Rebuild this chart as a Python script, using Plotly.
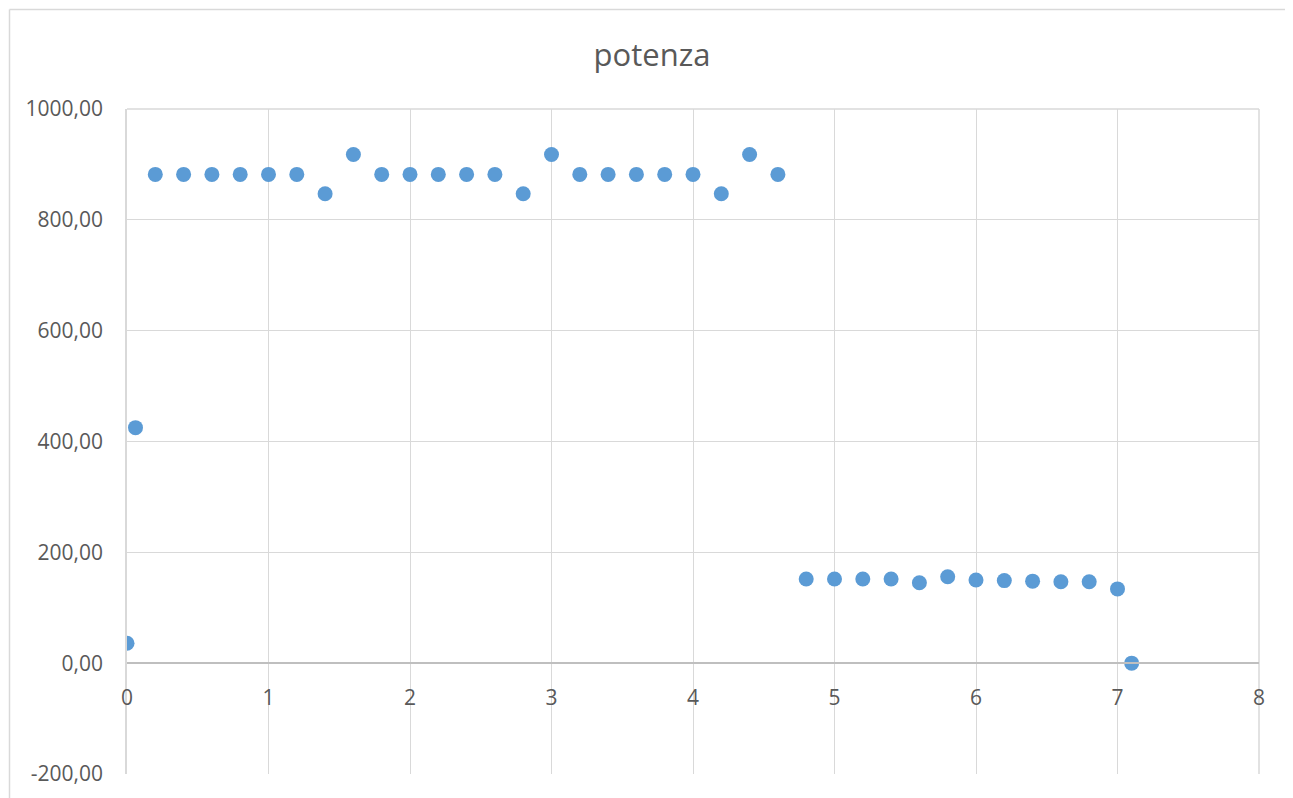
import plotly.graph_objects as go

# Data
tempo = [0, 0.06, 0.2, 0.4, 0.6, 0.8, 1.0, 1.2, 1.4, 1.6, 1.8, 2.0, 2.2, 2.4, 2.6, 2.8,
         3.0, 3.2, 3.4, 3.6, 3.8, 4.0, 4.2, 4.4, 4.6, 4.8, 5.0, 5.2, 5.4, 5.6, 5.8,
         6.0, 6.2, 6.4, 6.6, 6.8, 7.0, 7.1]
potenza = [36, 425, 882, 882, 882, 882, 882, 882, 847, 918, 882, 882, 882, 882, 882, 847,
           918, 882, 882, 882, 882, 882, 847, 918, 882, 152, 152, 152, 152, 145, 156,
           150, 149, 148, 147, 147, 134, 0]

x_ticks = [0, 1, 2, 3, 4, 5, 6, 7, 8]
y_ticks = [-200, 0, 200, 400, 600, 800, 1000]
y_ticktext = [f"{v:.2f}".replace(".", ",") for v in y_ticks]

OFF = 8  # page body margin
W, H = 1293 - OFF, 798 - OFF
L, R, T, B = 127 - OFF, 34, 109 - OFF, 24
pw, ph = W - L - R, H - T - B

FONT = "Open Sans"
TXT = "#595959"
GRID = "#D9D9D9"

fig = go.Figure()
fig.add_trace(go.Scatter(
    x=tempo, y=potenza, mode="markers",
    marker=dict(size=15, color="#5B9BD5", line=dict(width=0)),
    showlegend=False, hoverinfo="x+y",
))

y0_paper = (0 - y_ticks[0]) / (y_ticks[-1] - y_ticks[0])

fig.update_layout(
    width=W, height=H,
    margin=dict(l=L, r=R, t=T, b=B),
    paper_bgcolor="white", plot_bgcolor="white",
    separators=",.",
    title=dict(text="potenza", x=(652 - OFF) / W, xref="container", xanchor="center",
               y=1 - (55 - OFF) / H, yref="container", yanchor="middle",
               font=dict(family=FONT, size=31, color=TXT)),
    font=dict(family=FONT, color=TXT),
    xaxis=dict(
        range=[x_ticks[0], x_ticks[-1]], tickvals=x_ticks,
        showgrid=True, gridcolor=GRID, gridwidth=1,
        zeroline=False, showline=True, linecolor="#BFBFBF", linewidth=1.5,
        anchor="free", position=y0_paper,
        ticks="outside", ticklen=16, tickcolor="rgba(0,0,0,0)",
        tickfont=dict(family=FONT, size=21, color=TXT),
    ),
    yaxis=dict(
        range=[y_ticks[0], y_ticks[-1]], tickvals=y_ticks, ticktext=y_ticktext,
        showgrid=True, gridcolor=GRID, gridwidth=1,
        zeroline=False, showline=True, linecolor=GRID, linewidth=1.5,
        ticks="outside", ticklen=18, tickcolor="rgba(0,0,0,0)",
        tickfont=dict(family=FONT, size=21, color=TXT),
    ),
)

# Outer chart border (Excel chart area)
bx = (9.5 - OFF - L) / pw
by = (H - B - (9.5 - OFF)) / ph
fig.add_shape(type="line", xref="paper", yref="paper", x0=bx, x1=bx, y0=by, y1=-0.2,
              line=dict(color="#D9D9D9", width=1.5))
fig.add_shape(type="line", xref="paper", yref="paper", x0=bx, x1=1.2, y0=by, y1=by,
              line=dict(color="#D9D9D9", width=1.5))
# top and right edges of plot area
fig.add_shape(type="line", xref="paper", yref="paper", x0=0, x1=1, y0=1, y1=1,
              line=dict(color=GRID, width=1.5), layer="below")
fig.add_shape(type="line", xref="paper", yref="paper", x0=1, x1=1, y0=0, y1=1,
              line=dict(color=GRID, width=1.5), layer="below")

fig.write_html("out.html")
